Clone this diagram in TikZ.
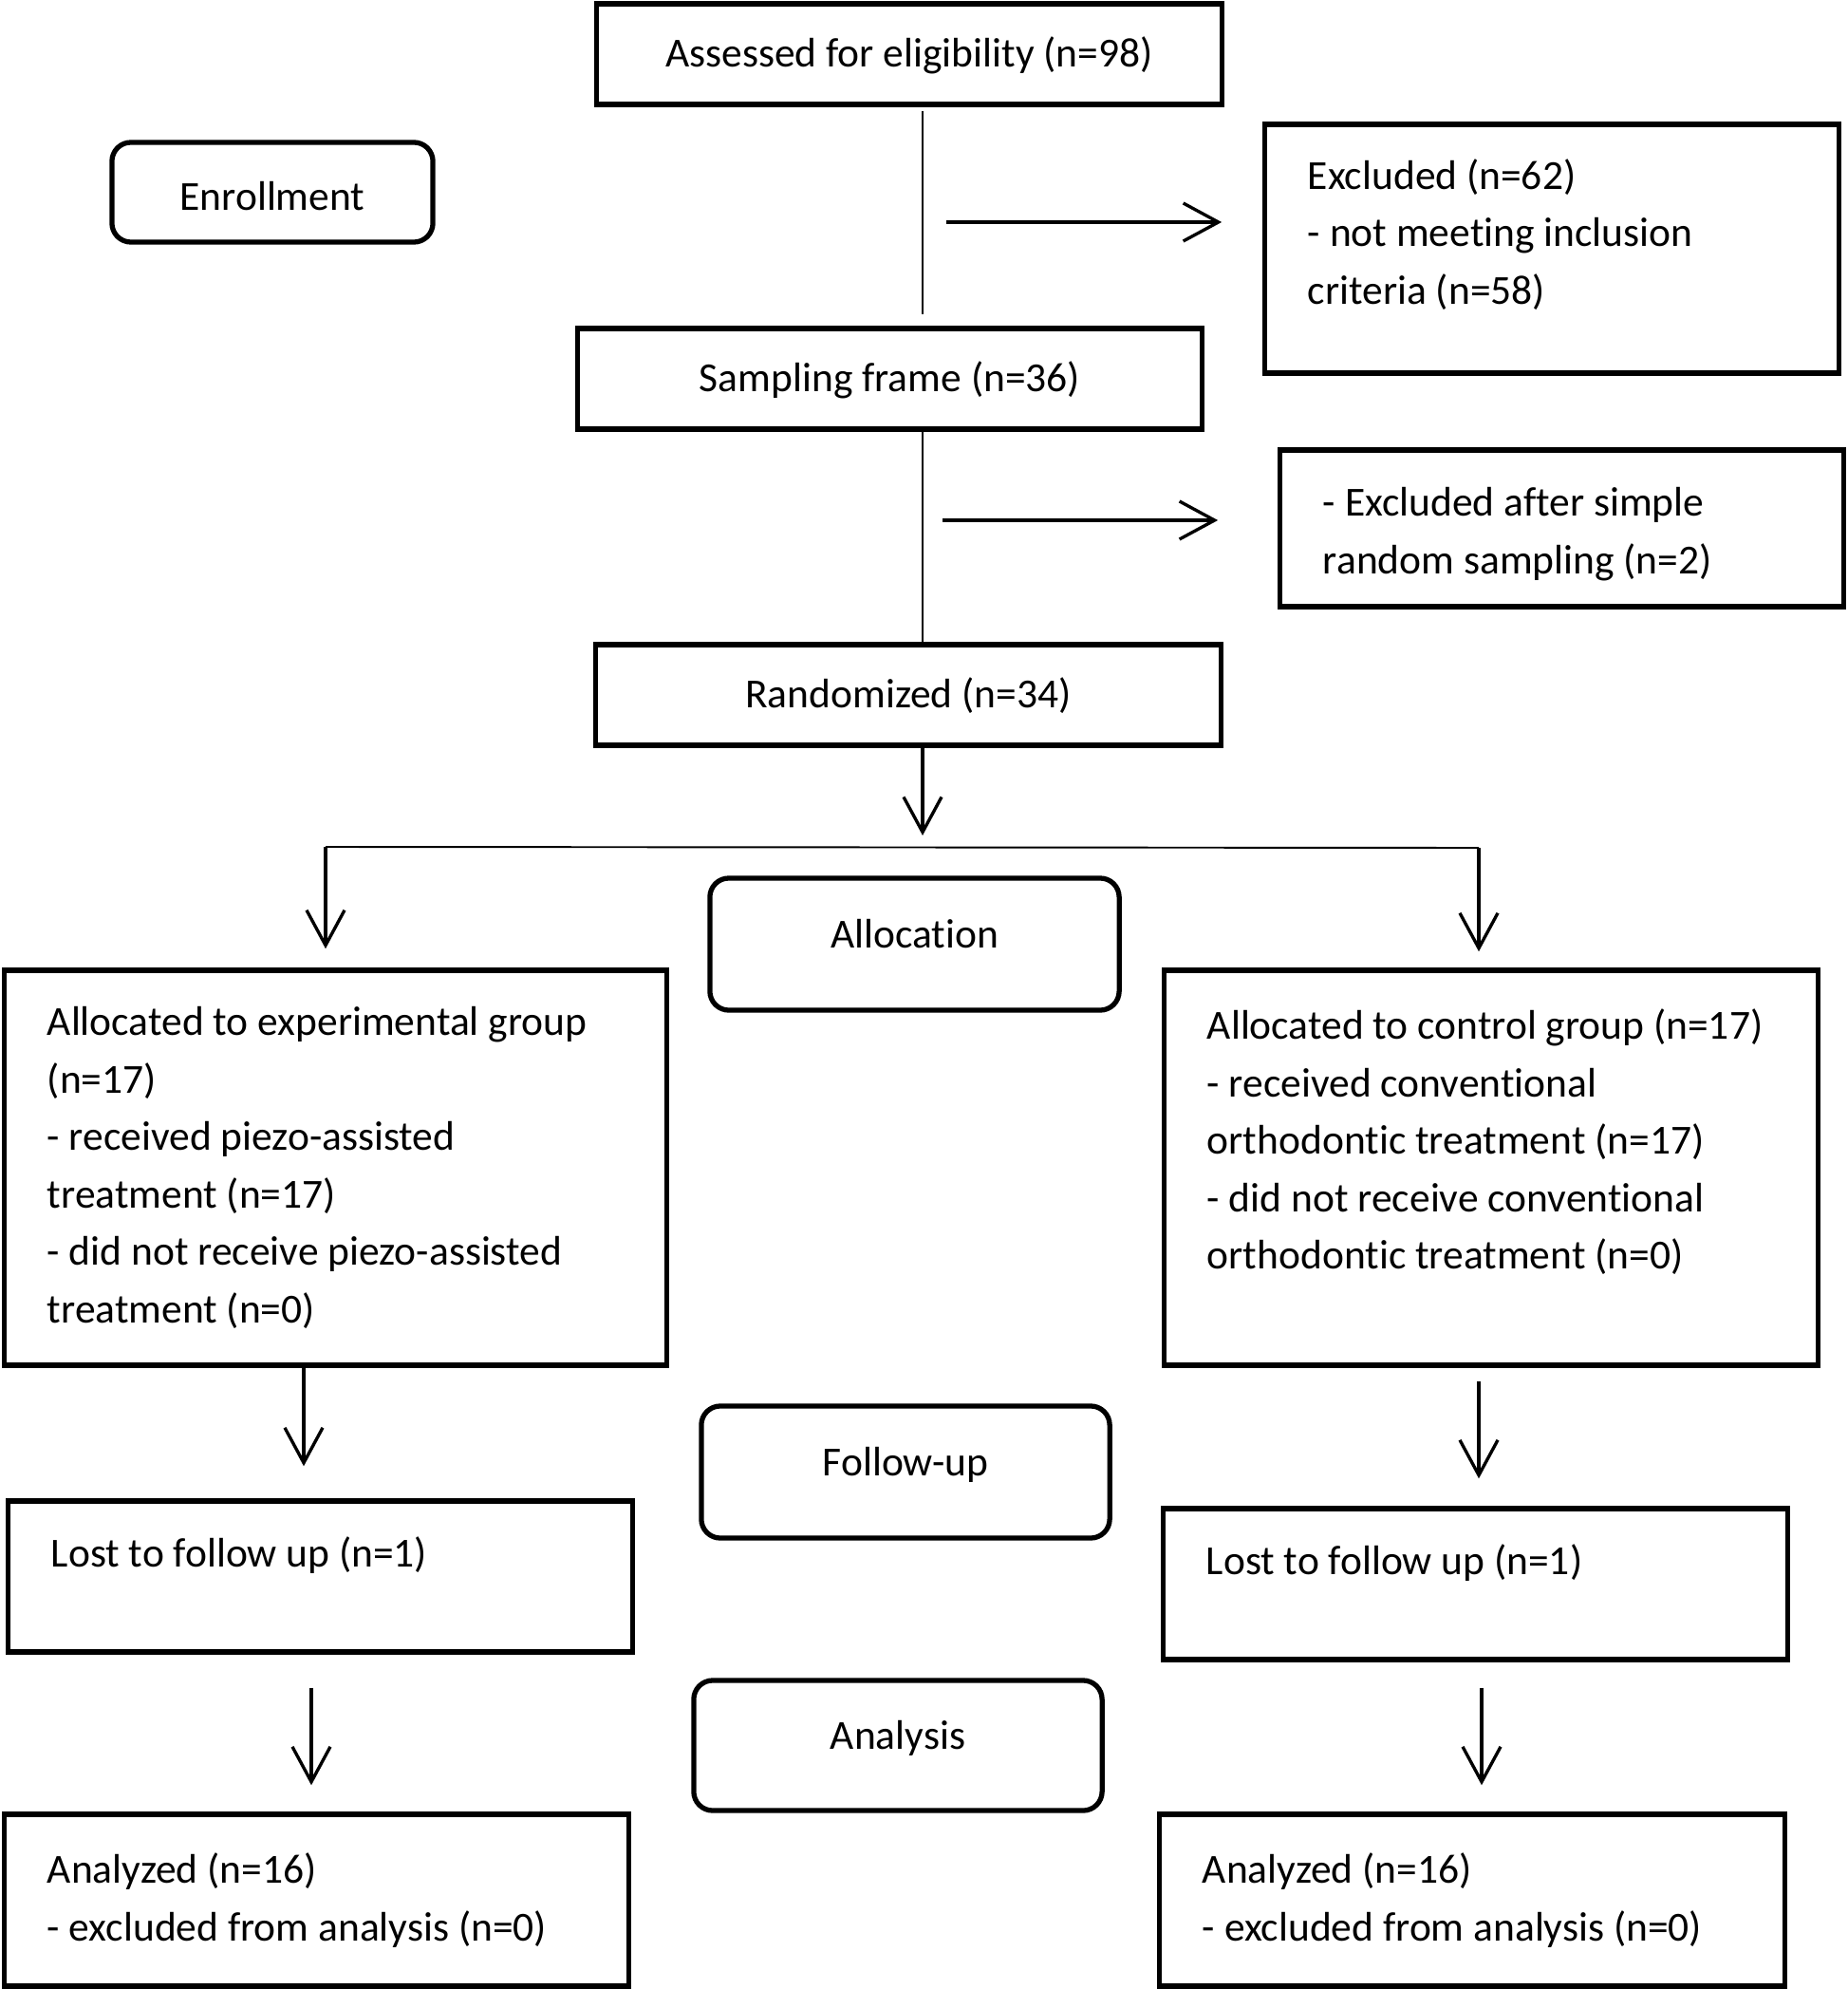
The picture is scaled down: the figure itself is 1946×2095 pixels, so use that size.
\documentclass[tikz,border=0pt]{standalone}
\usepackage{fontspec}
\setmainfont{Carlito}[Ligatures=CommonOff]
\usetikzlibrary{arrows.meta}
\begin{document}
\begin{tikzpicture}[x=0.01cm, y=-0.01cm,
	every node/.style={font=\fontsize{12.37}{17.2}\selectfont},
	box/.style={draw, line width=1.5pt, inner sep=0pt},
	linetext/.style={text height=10.5pt, text depth=2.6pt},
	textbox/.style={box, inner xsep=0.45cm,
		execute at begin node={\raggedright\spaceskip=0pt\xspaceskip=0pt\relax}},
	stage/.style={box, rounded corners=0.2cm},
	stagetext/.style={text height=8.7pt, text depth=6.6pt},
	link/.style={line width=0.75pt},
	splitline/.style={line width=0.55pt},
	arr/.style={line width=0.95pt, -{Straight Barb[length=0.37cm, width=0.40cm]}}]
			\useasboundingbox (0, 0) rectangle (1946, 2095);

			%%draw the boxes
			\node[box, linetext, minimum width=6.58cm, minimum height=1.06cm] (assess) at (958, 57){Assessed for eligibility (n=98)};
			\node[stage, text height=11pt, text depth=0pt, minimum width=3.38cm, minimum height=1.05cm] (enroll) at (287, 202.5){Enrollment};
			\node[textbox, text width=5.14cm, minimum height=2.62cm, text height=9.2pt, text depth=45pt] (excl) at (1635, 262){Excluded (n=62)\\- not meeting inclusion\\criteria (n=58)};

			\node[box, linetext, minimum width=6.57cm, minimum height=1.06cm] (frame) at (937.5, 399){Sampling frame (n=36)};
			\node[textbox, text width=5.03cm, minimum height=1.65cm, text height=12.5pt, text depth=19.8pt] (exclrand) at (1645.5, 556.5){- Excluded after simple\\random sampling (n=2)};

			\node[box, linetext, minimum width=6.58cm, minimum height=1.06cm] (rand) at (957, 732){Randomized (n=34)};
			\node[stage, stagetext, minimum width=4.31cm, minimum height=1.39cm] (alloc) at (963.5, 994.5){Allocation};

			\node[textbox, text width=6.07cm, minimum height=4.16cm] (expgrp) at (353.5, 1230){Allocated to experimental group\\(n=17)\\- received piezo-assisted\\treatment (n=17)\\- did not receive piezo-assisted\\treatment (n=0)};
			\node[textbox, text width=5.98cm, minimum height=4.16cm] (ctrlgrp) at (1571, 1230){Allocated to control group (n=17)\\- received conventional\\orthodontic treatment (n=17)\\- did not receive conventional\\orthodontic treatment (n=0)\\\mbox{}};

			\node[stage, stagetext, minimum width=4.30cm, minimum height=1.39cm] (follow) at (954, 1550.5){Follow-up};
			\node[textbox, text width=5.67cm, minimum height=1.59cm, text height=9pt, text depth=14.7pt] (lostexp) at (337.5, 1660.5){Lost to follow up (n=1)};
			\node[textbox, text width=5.67cm, minimum height=1.59cm, text height=9pt, text depth=14.7pt] (lostctrl) at (1554.5, 1668.5){Lost to follow up (n=1)};

			\node[stage, stagetext, minimum width=4.30cm, minimum height=1.37cm] (analysis) at (946, 1838.5){Analysis};
			\node[textbox, text width=5.67cm, minimum height=1.81cm] (anaexp) at (333.5, 2001.5){Analyzed (n=16)\\- excluded from analysis (n=0)};
			\node[textbox, text width=5.68cm, minimum height=1.81cm] (anactrl) at (1551, 2001.5){Analyzed (n=16)\\- excluded from analysis (n=0)};

			%%columns and free ends
			\coordinate (spine) at (972, 0);
			\coordinate (exclfrom) at (997, 234);
			\coordinate (randfrom) at (993, 548);
			\coordinate (split) at (972, 892);
			\coordinate (splitL) at (343, 892);
			\coordinate (splitR) at (1558, 893);
			\coordinate (colL) at (320, 0);
			\coordinate (colR) at (1558, 0);
			\coordinate (colLL) at (328, 0);
			\coordinate (colRR) at (1561, 0);

			%%draw the lines
			\draw[link, shorten <=0.04cm, shorten >=0.12cm](assess.south -| spine) to (frame.north -| spine);
			\draw[arr, shorten >=0.43cm](exclfrom) to (excl.west |- exclfrom);
			\draw[link](frame.south -| spine) to (rand.north -| spine);
			\draw[arr, shorten >=0.63cm](randfrom) to (exclrand.west |- randfrom);

			%%split into the two groups
			\draw[arr, shorten >=0.12cm](rand.south -| spine) to (split);
			\draw[splitline](splitL) to (splitR);
			\draw[arr, shorten >=0.20cm](splitL) to (expgrp.north -| splitL);
			\draw[arr, shorten >=0.17cm](splitR) to (ctrlgrp.north -| splitR);

			%%follow-up and analysis
			\draw[arr, shorten >=0.34cm](expgrp.south -| colL) to (lostexp.north -| colL);
			\draw[arr, shorten <=0.14cm, shorten >=0.29cm](ctrlgrp.south -| colR) to (lostctrl.north -| colR);
			\draw[arr, shorten <=0.35cm, shorten >=0.28cm](lostexp.south -| colLL) to (anaexp.north -| colLL);
			\draw[arr, shorten <=0.27cm, shorten >=0.28cm](lostctrl.south -| colRR) to (anactrl.north -| colRR);
		\end{tikzpicture}
\end{document}
